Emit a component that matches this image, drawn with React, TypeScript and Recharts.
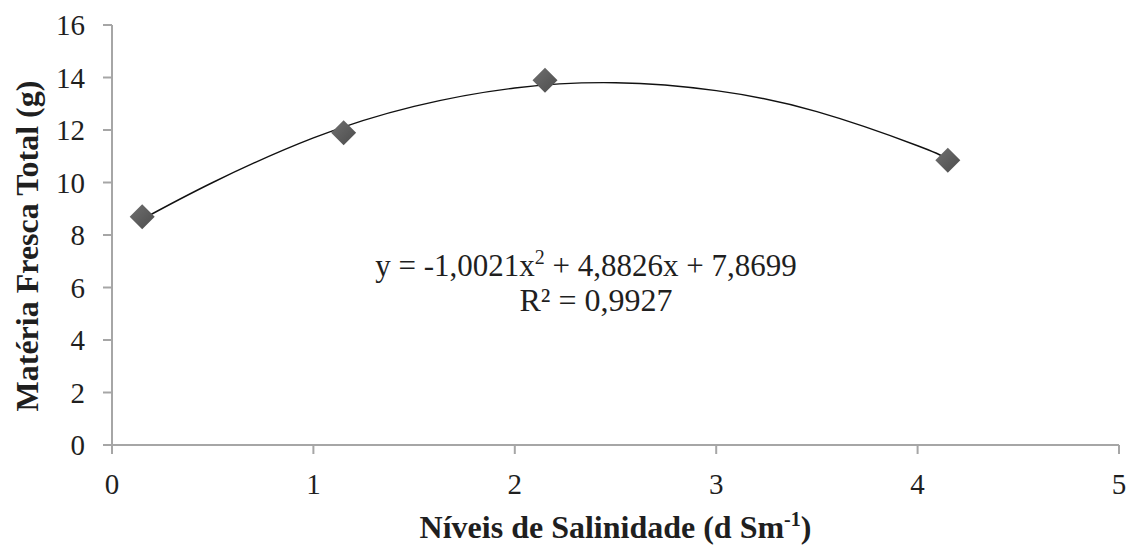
import {
  ComposedChart,
  Scatter,
  Line,
  XAxis,
  YAxis,
  Customized,
} from "recharts";

const SERIF = "'Liberation Serif', Tinos, 'Times New Roman', 'DejaVu Serif', serif";
const AXIS_COLOR = "#a6a6a6";
const TEXT_COLOR = "#1f1f1f";

// observed means
const salinity = [0.15, 1.15, 2.15, 4.15];
const freshMass = [8.7, 11.9, 13.9, 10.85];

// trendline
const trendX = [0.15, 0.5, 1.0, 1.5, 2.0, 2.5, 3.0, 3.5, 4.0, 4.15];
const trendY = [8.6, 10.0, 11.7, 12.9, 13.6, 13.8, 13.5, 12.7, 11.4, 10.9];

const xTicks = [0, 1, 2, 3, 4, 5];
const yTicks = [0, 2, 4, 6, 8, 10, 12, 14, 16];

const points = salinity.map((x, i) => ({ x, y: freshMass[i] }));
const trend = trendX.map((x, i) => ({ x, y: trendY[i] }));

const Diamond = (props: any) => {
  const { cx, cy } = props;
  const r = 12.5;
  return (
    <path
      d={`M${cx},${cy - r} L${cx + r},${cy} L${cx},${cy + r} L${cx - r},${cy} Z`}
      fill="url(#diamondFill)"
    />
  );
};

const XTitle = (props: any) => {
  const { viewBox } = props;
  const cx = viewBox.x + viewBox.width / 2;
  return (
    <text
      x={cx}
      y={viewBox.y + 93}
      textAnchor="middle"
      style={{ fontFamily: SERIF }}
      fontWeight="bold"
      fontSize={32}
      fill={TEXT_COLOR}
    >
      Níveis de Salinidade (d Sm
      <tspan dy={-12} fontSize={20}>-1</tspan>
      <tspan dy={12}>)</tspan>
    </text>
  );
};

const Equation = () => (
  <g style={{ fontFamily: SERIF }} fill={TEXT_COLOR}>
    <text x={586} y={276} textAnchor="middle" fontSize={31}>
      y = -1,0021x<tspan dy={-12} fontSize={20}>2</tspan>
      <tspan dy={12}> + 4,8826x + 7,8699</tspan>
    </text>
    <text x={596} y={311} textAnchor="middle" fontSize={32}>
      R² = 0,9927
    </text>
  </g>
);

const App = () => {
  return (
    <div style={{ position: "absolute", left: 0, top: 0, background: "#fff", fontFamily: SERIF }}>
      <ComposedChart
        width={1131}
        height={545}
        margin={{ top: 25, right: 12, left: 0, bottom: 0 }}
        style={{ fontFamily: SERIF }}
      >
        <defs>
          <linearGradient id="diamondFill" x1="0" y1="0" x2="1" y2="1">
            <stop offset="0%" stopColor="#707070" />
            <stop offset="100%" stopColor="#4c4c4c" />
          </linearGradient>
        </defs>
        <XAxis
          type="number"
          dataKey="x"
          domain={[0, 5]}
          ticks={xTicks}
          allowDataOverflow
          height={100}
          tickSize={9}
          tickMargin={19}
          axisLine={{ stroke: AXIS_COLOR, strokeWidth: 2 }}
          tickLine={{ stroke: AXIS_COLOR, strokeWidth: 2 }}
          tick={{ fontSize: 29, fill: TEXT_COLOR, style: { fontFamily: SERIF } }}
          label={<XTitle />}
        />
        <YAxis
          type="number"
          dataKey="y"
          domain={[0, 16]}
          ticks={yTicks}
          width={112}
          tickSize={9}
          tickMargin={18}
          axisLine={{ stroke: AXIS_COLOR, strokeWidth: 2 }}
          tickLine={{ stroke: AXIS_COLOR, strokeWidth: 2 }}
          tick={{ fontSize: 29, fill: TEXT_COLOR, style: { fontFamily: SERIF } }}
        />
        <Scatter
          data={points}
          dataKey="y"
          shape={<Diamond />}
          isAnimationActive={false}
        />
        <Line
          data={trend}
          dataKey="y"
          type="natural"
          stroke="#111"
          strokeWidth={1.4}
          dot={false}
          activeDot={false}
          isAnimationActive={false}
        />
        <Customized component={Equation} />
        <text
          transform="translate(27, 246) rotate(-90)"
          textAnchor="middle"
          dominantBaseline="central"
          style={{ fontFamily: SERIF }}
          fontWeight="bold"
          fontSize={32}
          fill={TEXT_COLOR}
        >
          Matéria  Fresca Total (g)
        </text>
      </ComposedChart>
    </div>
  );
};

export default App;
